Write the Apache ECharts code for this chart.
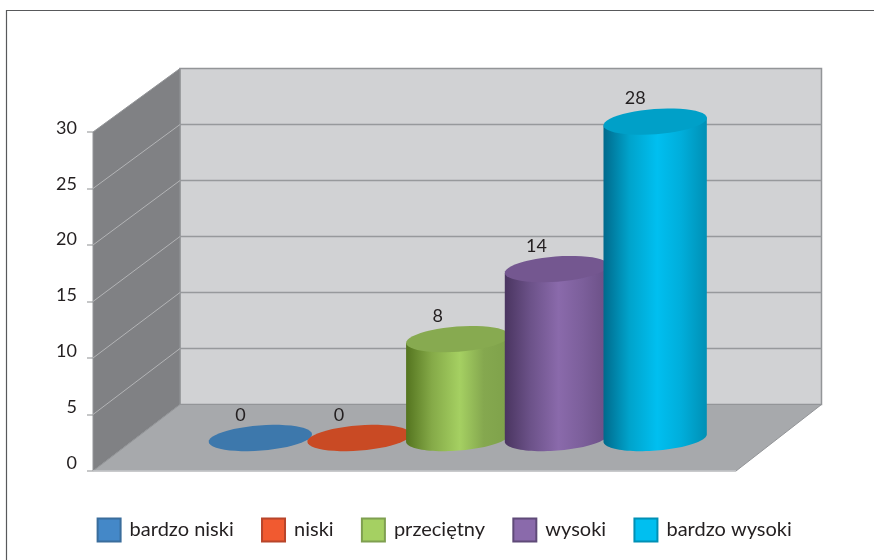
<!DOCTYPE html>
<html>
<head>
<meta charset="utf-8">
<style>html,body{margin:0;padding:0;background:#fff}#c{width:874px;height:560px}</style>
<script src="https://cdn.jsdelivr.net/npm/echarts@6/dist/echarts.min.js"></script>
</head>
<body>
<div id="c"></div>
<script>
// Chart data
const categories = ['bardzo niski', 'niski', 'przeciętny', 'wysoki', 'bardzo wysoki'];
const values = [0, 0, 8, 14, 28];          // numbers printed above the bars
const drawnHeights = [0, 0, 8.75, 14.95, 28]; // where the bar tops actually sit against the axis in the picture
const yTicks = [0, 5, 10, 15, 20, 25, 30];

// Styles
const FONT = 'Lato, "Open Sans", sans-serif';
const INK = '#231f20';
const legendColors = ['#4488c8', '#f15a30', '#a5d062', '#8a6aab', '#00bff0'];
const legendBorders = ['#3a6d9c', '#b8452a', '#7f9f50', '#5f4a78', '#0090b5'];
const capColors = ['#3d78ac', '#c94a24', '#87aa50', '#745790', '#00a0c8'];
const bodyStops = [
  null, null,
  ['#54741f', '#85aa48', '#a5d062', '#85a84f', '#7ea14a'],
  ['#4a3560', '#6c5289', '#8a6aab', '#7c5f9b', '#6a4f85'],
  ['#006a8c', '#00a3cb', '#00bff0', '#00aedb', '#0090b5']
];

const DEPTH_X = 87, DEPTH_Y = 66.5, DEPTH_SCALE = 336 / 339, WALL_W = 641.5;

const chart = echarts.init(document.getElementById('c'), null, { renderer: 'canvas' });

function backPoint(p, o) {
  return [p[0] + DEPTH_X, o[1] - DEPTH_Y + (p[1] - o[1]) * DEPTH_SCALE];
}

function renderWalls(params, api) {
  const o = api.coord([0, 0]);
  const top = api.coord([0, yTicks[yTicks.length - 1]]);
  const right = api.coord([1, 0]);
  const bo = backPoint(o, o), bt = backPoint(top, o);
  const bre = [bo[0] + WALL_W, bo[1]], trt = [bt[0] + WALL_W, bt[1]];
  return { type: 'group', children: [
    { type: 'polygon', shape: { points: [bt, trt, bre, bo] },
      style: { fill: '#d1d2d4', stroke: '#939598', lineWidth: 1.5 } },
    { type: 'polygon', shape: { points: [top, bt, bo, o] },
      style: { fill: '#808184', stroke: '#939598', lineWidth: 1 } },
    { type: 'polygon', shape: { points: [o, bo, bre, right] },
      style: { fill: '#a7a9ac', stroke: '#939598', lineWidth: 1 } },
    { type: 'line', shape: { x1: o[0], y1: o[1], x2: right[0], y2: right[1] },
      style: { stroke: '#c9cacc', lineWidth: 1.5 } }
  ] };
}

function renderGridline(params, api) {
  const v = api.value(1);
  if (v === 0 || v === yTicks[yTicks.length - 1]) return null;
  const o = api.coord([0, 0]);
  const p = api.coord([0, v]);
  const b = backPoint(p, o);
  return { type: 'group', children: [
    { type: 'line', shape: { x1: p[0], y1: p[1], x2: b[0], y2: b[1] },
      style: { stroke: '#b3b4b6', lineWidth: 1 } },
    { type: 'line', shape: { x1: b[0], y1: b[1], x2: b[0] + WALL_W, y2: b[1] },
      style: { stroke: '#97999c', lineWidth: 1.6 } }
  ] };
}

const TILT = 4.4 * Math.PI / 180;
function ell(cx, cy, rx, ry, t) {
  return [
    cx + rx * Math.cos(t) * Math.cos(TILT) + ry * Math.sin(t) * Math.sin(TILT),
    cy - rx * Math.cos(t) * Math.sin(TILT) + ry * Math.sin(t) * Math.cos(TILT)
  ];
}
function arc(cx, cy, rx, ry, t0, t1) {
  const n = 48, pts = [];
  for (let i = 0; i <= n; i++) pts.push(ell(cx, cy, rx, ry, t0 + (t1 - t0) * i / n));
  return pts;
}

function makeCylinder(idx) {
  return function (params, api) {
    const base = api.coord([api.value(0), 0]);
    const topP = api.coord([api.value(0), api.value(2)]);
    const band = api.size([1, 0])[0];
    const rx = band * 0.525, ry = 12.6;
    const children = [];
    if (bodyStops[idx] && api.value(2) > 0) {
      const s = bodyStops[idx];
      const pts = arc(base[0], base[1], rx, ry, Math.PI, 0)
        .concat([ell(topP[0], topP[1], rx, ry, 0), ell(topP[0], topP[1], rx, ry, Math.PI)]);
      children.push({ type: 'polygon', shape: { points: pts }, style: {
        fill: { type: 'linear', x: 0, y: 0, x2: 1, y2: 0, colorStops: [
          { offset: 0, color: s[0] }, { offset: 0.25, color: s[1] }, { offset: 0.52, color: s[2] },
          { offset: 0.75, color: s[3] }, { offset: 1, color: s[4] }
        ] }
      } });
    }
    children.push({ type: 'polygon',
      shape: { points: arc(topP[0], topP[1], rx, ry, 0, Math.PI * 2) },
      style: { fill: capColors[idx] } });
    children.push({ type: 'text', x: topP[0] - 20, y: topP[1] - 23, style: {
      text: String(api.value(1)), font: '18px ' + FONT, fill: INK, align: 'center', verticalAlign: 'middle'
    } });
    return { type: 'group', children };
  };
}

const barSeries = categories.map((name, i) => ({
  type: 'custom', name, xAxisIndex: 1, yAxisIndex: 1, z: 5 + i, clip: false, silent: true,
  itemStyle: { color: legendColors[i], borderColor: legendBorders[i], borderWidth: 1 },
  encode: { x: 0, y: 2 },
  renderItem: makeCylinder(i),
  data: [[name, values[i], drawnHeights[i]]]
}));

chart.setOption({
  animation: false,
  backgroundColor: '#ffffff',
  grid: [
    { left: 93, top: 132, width: 643, height: 339 },
    { left: 211, top: 99, width: 493.5, height: 339 },
    { left: 93, top: 128, width: 643, height: 335 }
  ],
  xAxis: [
    { type: 'value', gridIndex: 0, min: 0, max: 1, show: false },
    { type: 'category', gridIndex: 1, data: categories, show: false },
    { type: 'value', gridIndex: 2, min: 0, max: 1, show: false }
  ],
  yAxis: [
    { type: 'value', gridIndex: 0, min: 0, max: 30, interval: 5,
      axisLine: { show: true, lineStyle: { color: 'rgba(0,0,0,0)' } }, splitLine: { show: false },
      axisTick: { show: true, length: 6, lineStyle: { color: '#b4b5b7', width: 1.5 } },
      axisLabel: { show: false } },
    { type: 'value', gridIndex: 1, min: 0, max: 30, interval: 5, show: false },
    { type: 'value', gridIndex: 2, min: 0, max: 30, interval: 5,
      axisLine: { show: false }, axisTick: { show: false }, splitLine: { show: false },
      axisLabel: { color: INK, fontFamily: FONT, fontSize: 18, margin: 16 } }
  ],
  legend: {
    data: categories, left: 91.6, top: 512.5, itemWidth: 23, itemHeight: 23, itemGap: 27.3,
    icon: 'rect', selectedMode: false,
    textStyle: { color: INK, fontFamily: FONT, fontSize: 20, padding: [0, 0, 0, 4] }
  },
  graphic: [
    { type: 'polyline', silent: true, shape: { points: [[6.5, 560], [6.5, 10.5], [874, 10.5]] },
      style: { fill: 'none', stroke: '#58595b', lineWidth: 1.2 } }
  ],
  series: [
    { type: 'custom', name: 'walls', xAxisIndex: 0, yAxisIndex: 0, z: 1, clip: false, silent: true,
      encode: { x: 0, y: 1 }, renderItem: renderWalls, data: [[0, 0]] },
    { type: 'custom', name: 'gridlines', xAxisIndex: 0, yAxisIndex: 0, z: 2, clip: false, silent: true,
      encode: { x: 0, y: 1 }, renderItem: renderGridline, data: yTicks.map(v => [0, v]) }
  ].concat(barSeries)
});
</script>
</body>
</html>
